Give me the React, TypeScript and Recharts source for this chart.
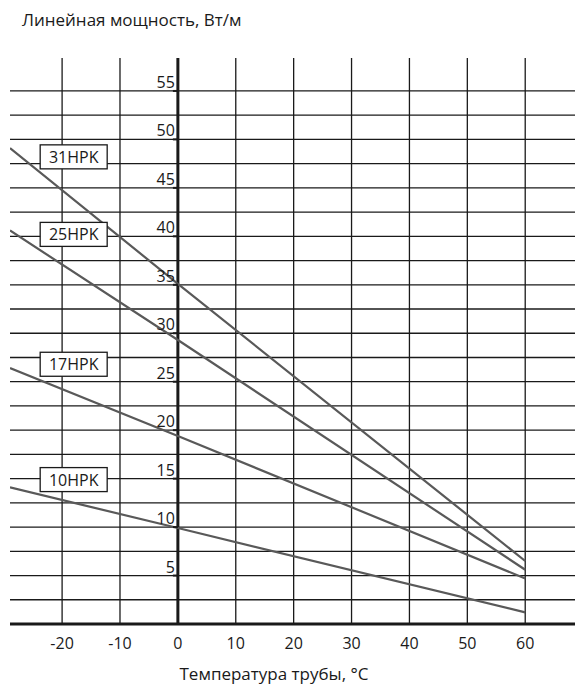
import React from 'react';
import {
  LineChart, Line, XAxis, YAxis, ReferenceLine, ReferenceDot,
} from 'recharts';

// ─── Data ────────────────────────────────────────────────────────────────────

const TEMPS = [-29, 0, 60];
const HPK31 = [49.1, 35.1, 6.5];
const HPK25 = [40.6, 29.3, 5.6];
const HPK17 = [26.4, 19.4, 4.7];
const HPK10 = [14.1, 9.9, 1.2];

const SERIES_NAMES = ['31HPK', '25HPK', '17HPK', '10HPK'];
const SERIES_VALUES = [HPK31, HPK25, HPK17, HPK10];
// label boxes: [temp, power] of box centre
const LABEL_POS: [number, number][] = [[-18, 48.2], [-18, 40.2], [-18, 26.8], [-18, 14.9]];

const X_TICKS = [-20, -10, 0, 10, 20, 30, 40, 50, 60];
const Y_LABELS = [5, 10, 15, 20, 25, 30, 35, 40, 45, 50, 55];
const Y_GRID = [2.5, 5, 7.5, 10, 12.5, 15, 17.5, 20, 22.5, 25, 27.5, 30, 32.5, 35, 37.5, 40, 42.5, 45, 47.5, 50, 52.5, 55];

const FONT = '"Open Sans", "Noto Sans", sans-serif';
const INK = '#1a1a1a';
const LINE = '#595959';

const seriesData = SERIES_VALUES.map(vals => TEMPS.map((t, i) => ({ t, v: vals[i] })));

// ─── Shapes ──────────────────────────────────────────────────────────────────

const YTick = (v: number) => (props: any) => {
  const { cx, cy } = props;
  return (
    <g>
      <line x1={cx - 5} x2={cx} y1={cy} y2={cy} stroke={INK} strokeWidth={2} />
      <text x={cx - 3} y={cy - 3} textAnchor="end" fontSize={16} fontFamily={FONT} fill={INK}>{v}</text>
    </g>
  );
};

const NameBox = (name: string) => (props: any) => {
  const { cx, cy } = props;
  const w = 67, h = 24;
  return (
    <g>
      <rect x={cx - w / 2} y={cy - h / 2} width={w} height={h} fill="#fff" stroke={INK} strokeWidth={1.3} />
      <text x={cx} y={cy + 6} textAnchor="middle" fontSize={16} fontFamily={FONT} fill={INK}>{name}</text>
    </g>
  );
};

// ─── Main component ──────────────────────────────────────────────────────────

export default function App() {
  return (
    <div style={{ position: 'relative', width: 583, height: 696, background: '#fff', fontFamily: FONT }}>
      <style>{'body{margin:0}'}</style>
      <div style={{ position: 'absolute', left: 22, top: 8, fontSize: 17, color: INK }}>
        Линейная мощность, Вт/м
      </div>
      <div style={{ position: 'absolute', left: 0, width: 548, top: 662, fontSize: 17, color: INK, textAlign: 'center' }}>
        Температура трубы, °С
      </div>

      <LineChart width={583} height={696} margin={{ top: 58, right: 8, left: 10, bottom: 42 }}>
        <XAxis
          type="number"
          dataKey="t"
          domain={[-29, 68.6]}
          ticks={X_TICKS}
          allowDataOverflow
          height={30}
          axisLine={false}
          tickLine={false}
          tickMargin={8}
          tick={{ fontSize: 16, fill: INK, fontFamily: FONT }}
        />
        <YAxis type="number" domain={[0, 58.4]} allowDataOverflow hide />

        {/* grid */}
        {Y_GRID.map(v => (
          <ReferenceLine key={`h${v}`} y={v} stroke={INK} strokeWidth={1.3} />
        ))}
        {X_TICKS.map(v => (
          <ReferenceLine key={`v${v}`} x={v} stroke={INK} strokeWidth={v === 0 ? 3 : 1.3} />
        ))}
        <ReferenceLine y={0} stroke={INK} strokeWidth={3} />

        {seriesData.map((d, i) => (
          <Line
            key={SERIES_NAMES[i]}
            data={d}
            dataKey="v"
            type="linear"
            stroke={LINE}
            strokeWidth={2.2}
            dot={false}
            isAnimationActive={false}
          />
        ))}
        {Y_LABELS.map(v => (
          <ReferenceDot key={v} x={0} y={v} r={0} shape={YTick(v)} />
        ))}
        {SERIES_NAMES.map((n, i) => (
          <ReferenceDot key={n} x={LABEL_POS[i][0]} y={LABEL_POS[i][1]} r={0} shape={NameBox(n)} />
        ))}
      </LineChart>
    </div>
  );
}
